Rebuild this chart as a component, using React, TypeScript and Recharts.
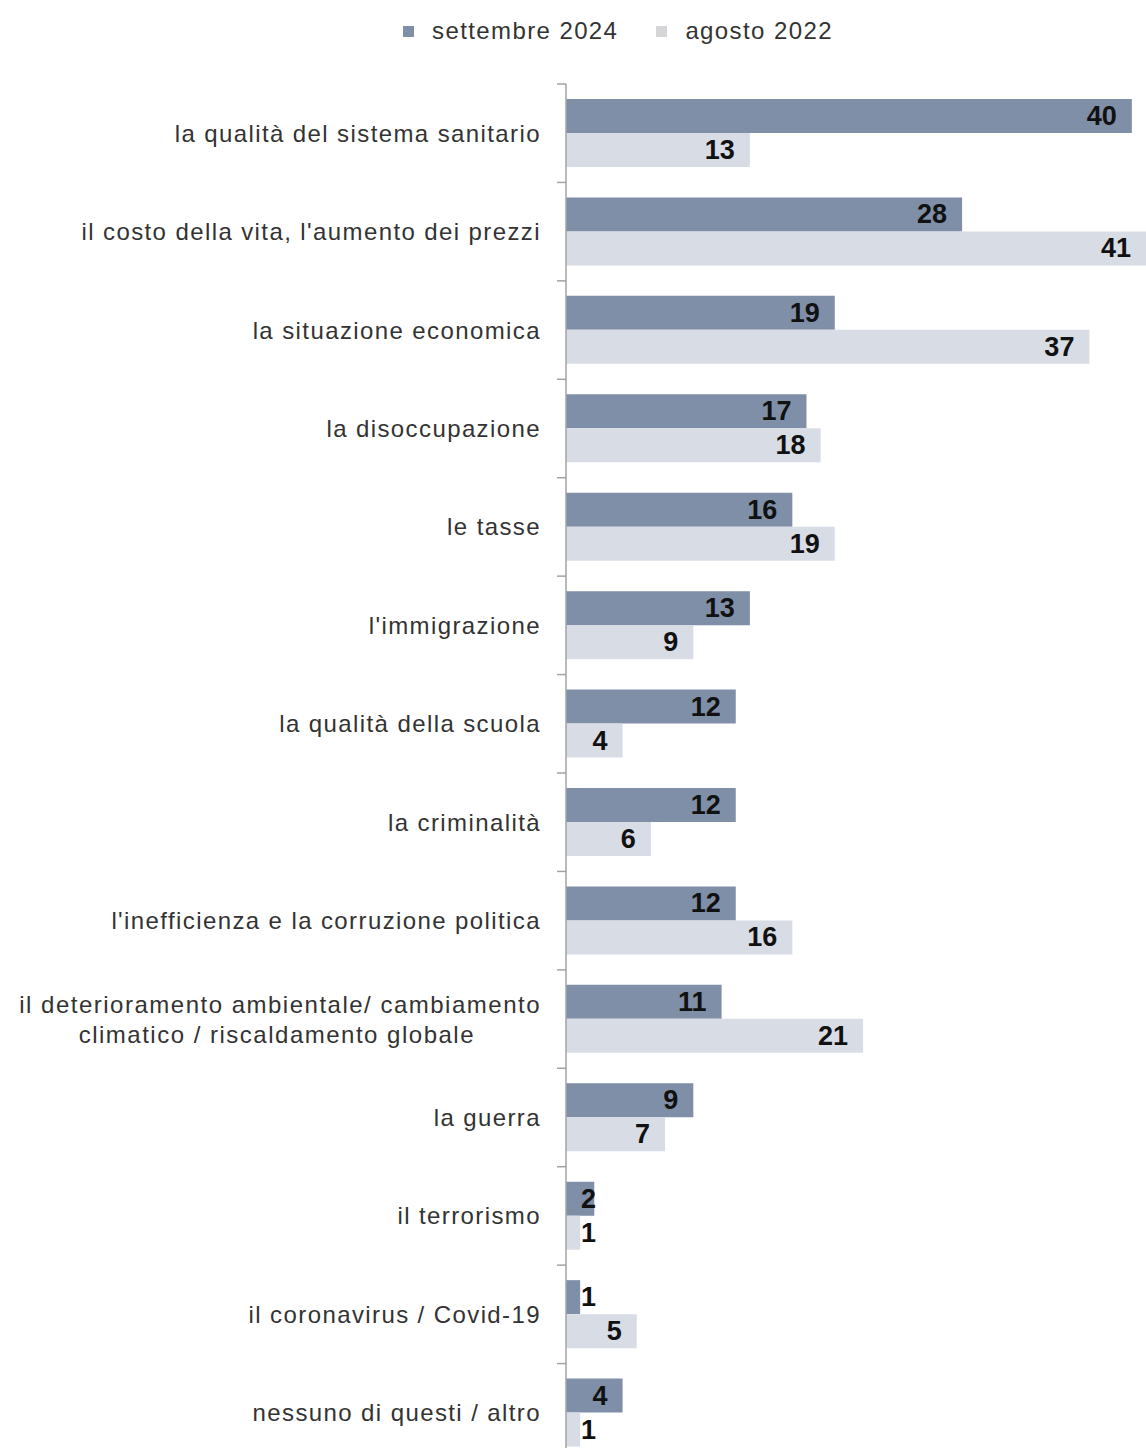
import React from "react";
import { BarChart, Bar, XAxis, YAxis, LabelList } from "recharts";

const categories = [
  ["la qualità del sistema sanitario"],
  ["il costo della vita, l'aumento dei prezzi"],
  ["la situazione economica"],
  ["la disoccupazione"],
  ["le tasse"],
  ["l'immigrazione"],
  ["la qualità della scuola"],
  ["la criminalità"],
  ["l'inefficienza e la corruzione politica"],
  ["il deterioramento ambientale/ cambiamento", "climatico / riscaldamento globale"],
  ["la guerra"],
  ["il terrorismo"],
  ["il coronavirus / Covid-19"],
  ["nessuno di questi / altro"],
];

const settembre2024 = [40, 28, 19, 17, 16, 13, 12, 12, 12, 11, 9, 2, 1, 4];
const agosto2022 = [13, 41, 37, 18, 19, 9, 4, 6, 16, 21, 7, 1, 5, 1];

const data = categories.map((lines, i) => ({
  name: lines.join("\n"),
  s2024: settembre2024[i],
  a2022: agosto2022[i],
}));

const DARK = "#7f8fa7";
const LIGHT = "#d8dce5";
const AXIS = "#a3a3a3";
const FONT = "'Liberation Sans', Arial, sans-serif";

const TOP = 84;
const PLOT_H = 1378;
const BAND = PLOT_H / categories.length;

const CategoryTick = (props: any) => {
  const { x, y, payload, index } = props;
  const lines: string[] = String(payload.value).split("\n");
  const axisX = x + 25;
  return (
    <g>
      <line x1={axisX - 9} x2={axisX} y1={y - BAND / 2} y2={y - BAND / 2} stroke={AXIS} strokeWidth={1.5} />
      {index === categories.length - 1 && (
        <line x1={axisX - 9} x2={axisX} y1={y + BAND / 2} y2={y + BAND / 2} stroke={AXIS} strokeWidth={1.5} />
      )}
      {lines.length === 1 ? (
        <text x={x} y={y} textAnchor="end" dominantBaseline="central" fontSize={24} letterSpacing={1.4} fill="#333" fontFamily={FONT}>
          {lines[0]}
        </text>
      ) : (
        <text x={x} y={y} textAnchor="end" fontSize={24} letterSpacing={1.5} fill="#333" fontFamily={FONT}>
          <tspan x={x} dy={-6}>{lines[0]}</tspan>
          <tspan x={x - 66} dy={30}>{lines[1]}</tspan>
        </text>
      )}
    </g>
  );
};

const ValueLabel = (props: any) => {
  const { x, y, width, height, value } = props;
  return (
    <text
      x={x + Math.max(width - 15, 30)}
      y={y + height / 2}
      textAnchor="end"
      dominantBaseline="central"
      fontSize={27}
      fontWeight="bold"
      fill="#111"
      fontFamily={FONT}
    >
      {value}
    </text>
  );
};

const legendItems = [
  { label: "settembre 2024", color: DARK },
  { label: "agosto 2022", color: "#d6d6d8" },
];

export default function App() {
  return (
    <div style={{ position: "absolute", top: 0, left: 0, width: 1146, height: 1448, overflow: "hidden", background: "#fff" }}>
      <div style={{ position: "absolute", top: 17, left: 403, display: "flex", alignItems: "center", fontFamily: FONT, fontSize: 24, letterSpacing: 1.4, color: "#333" }}>
        {legendItems.map((it, i) => (
          <div key={it.label} style={{ display: "flex", alignItems: "center", marginRight: i === 0 ? 38 : 0 }}>
            <span style={{ display: "inline-block", width: 11, height: 11, background: it.color, marginRight: 18 }} />
            <span>{it.label}</span>
          </div>
        ))}
      </div>
      <BarChart
        width={1146}
        height={TOP + PLOT_H}
        data={data}
        layout="vertical"
        margin={{ top: TOP, right: 0, left: 0, bottom: 0 }}
        barCategoryGap={15}
        barGap={0}
      >
        <XAxis type="number" domain={[0, 41]} hide />
        <YAxis
          type="category"
          dataKey="name"
          width={566}
          interval={0}
          tickSize={0}
          tickMargin={25}
          tick={<CategoryTick />}
          axisLine={{ stroke: AXIS, strokeWidth: 1.5 }}
        />
        <Bar dataKey="s2024" fill={DARK} isAnimationActive={false}>
          <LabelList dataKey="s2024" content={<ValueLabel />} />
        </Bar>
        <Bar dataKey="a2022" fill={LIGHT} isAnimationActive={false}>
          <LabelList dataKey="a2022" content={<ValueLabel />} />
        </Bar>
      </BarChart>
    </div>
  );
}
